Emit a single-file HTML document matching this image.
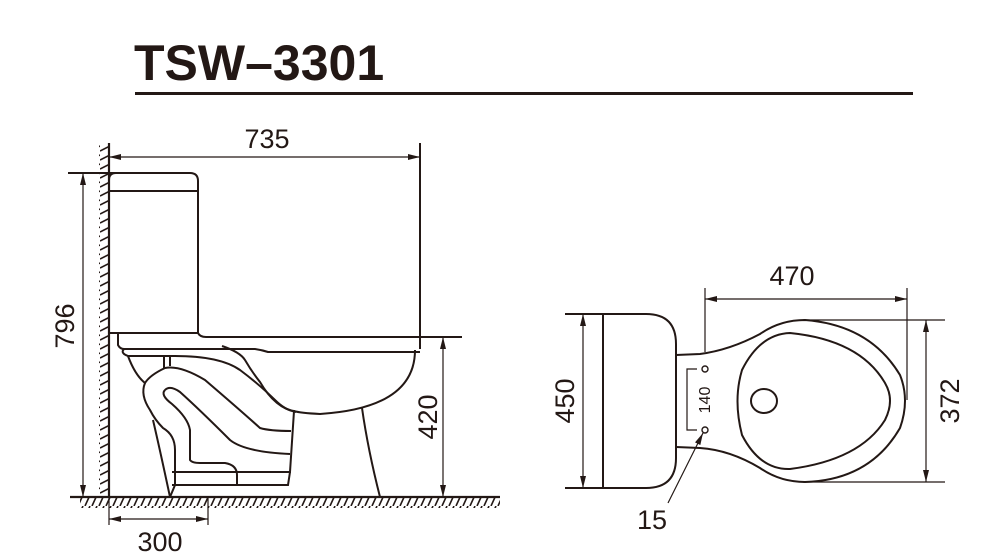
<!DOCTYPE html>
<html><head><style>
html,body{margin:0;padding:0;background:#fff}
svg{display:block}
text{font-family:"Liberation Sans",sans-serif;fill:#231815}
</style></head><body>
<svg width="992" height="556" viewBox="0 0 992 556" xmlns="http://www.w3.org/2000/svg">
<defs>
<marker id="a" viewBox="0 0 12 6" refX="12" refY="3" markerWidth="12" markerHeight="6" orient="auto-start-reverse" markerUnits="userSpaceOnUse"><path d="M0,0 L12,3 L0,6 z" fill="#231815"/></marker>
<pattern id="fh" width="7" height="11" patternUnits="userSpaceOnUse"><line x1="6" y1="0" x2="1" y2="11" stroke="#231815" stroke-width="1.6"/></pattern>
<pattern id="wh" width="10" height="9" patternUnits="userSpaceOnUse"><line x1="0" y1="7" x2="10" y2="2" stroke="#231815" stroke-width="1.6"/></pattern>
</defs>
<text x="134" y="80" font-size="50" font-weight="bold">TSW–3301</text>
<rect x="135" y="92" width="778" height="3" fill="#231815"/>

<g fill="none" stroke="#231815" stroke-width="2">
<rect x="99" y="143" width="10" height="354" fill="url(#wh)" stroke="none"/>
<rect x="80" y="497" width="420" height="11" fill="url(#fh)" stroke="none"/>
<line x1="109" y1="143" x2="109" y2="497" stroke-width="2.2"/>
<line x1="70" y1="497" x2="500" y2="497" stroke-width="2.2"/>
<line x1="109" y1="157" x2="420" y2="157" marker-start="url(#a)" marker-end="url(#a)" stroke-width="1.2"/>
<line x1="420" y1="143" x2="420" y2="349"/>
<line x1="68" y1="173" x2="190" y2="173"/>
<path d="M109,333 L109,180 Q109,173 116,173 L190,173 Q198,173 198,181 L198,333 Z"/>
<line x1="109" y1="191" x2="198" y2="191"/>
<path d="M198,333 Q200,337 206,337 L462,337"/>
<path d="M118,333 L118,345 Q120,349 124,349 L255,349 Q262,350 268,352 L420,352"/>
<path d="M415,350 Q415,408 320,414 Q300,413 294,411"/>
<path d="M124,349 Q120,353 128,356 L175,356 Q220,356 240,370 Q260,385 275,400 Q285,410 294,411 L290,472 L172,472"/>
<path d="M222,346 Q240,352 245,360 Q252,372 260,382 Q275,408 296,412"/>
<path d="M362,408 Q368,450 380,497"/>
<path d="M128,356 Q135,375 145,383 Q150,375 165,368 Q180,365 205,380 Q240,410 260,428 Q270,431 291,431"/>
<path d="M165,390 Q170,385 180,392 Q200,410 230,440 Q245,452 290,454"/>
<path d="M165,390 Q160,395 172,404 Q188,418 190,430 L190,460 Q192,463 200,463 L225,463 Q237,465 237,475 L237,485 L172,485"/>
<path d="M145,383 Q140,395 150,410 Q155,420 163,428 Q175,435 175,450 L175,485 Q173,490 170,497"/>
<path d="M153,420 Q160,450 170,497"/>
<path d="M164,357 L164,368 M170,357 L170,366"/>
<path d="M290,472 L288,485 L237,485"/>
<line x1="83" y1="173" x2="83" y2="497" marker-start="url(#a)" marker-end="url(#a)" stroke-width="1.2"/>
<line x1="443" y1="337" x2="443" y2="497" marker-start="url(#a)" marker-end="url(#a)" stroke-width="1.2"/>
<line x1="109" y1="497" x2="109" y2="525" stroke-width="1.2"/>
<line x1="208" y1="497" x2="208" y2="525" stroke-width="1.2"/>
<line x1="109" y1="519" x2="208" y2="519" marker-start="url(#a)" marker-end="url(#a)" stroke-width="1.2"/>

<path d="M565,314 L646,314 Q676,314 676,344 L676,458 Q676,488 646,488 L565,488"/>
<line x1="603" y1="314" x2="603" y2="488"/>
<line x1="583" y1="314" x2="583" y2="488" marker-start="url(#a)" marker-end="url(#a)" stroke-width="1.2"/>
<path d="M676,355 L700,354 Q730,350 760,334 Q780,320 805,320 Q870,325 900,375 Q910,400 900,428 Q870,480 805,482 Q780,482 760,468 Q730,450 700,448 L676,447"/>
<path d="M790,333 Q760,334 742,370 Q733,400 742,435 Q760,470 790,469 Q860,460 885,420 Q895,400 885,383 Q860,340 790,333 Z"/>
<ellipse cx="764" cy="401" rx="13" ry="12"/>
<line x1="705" y1="288" x2="705" y2="352" stroke-width="1.2"/>
<line x1="907" y1="288" x2="907" y2="400" stroke-width="1.2"/>
<line x1="705" y1="299" x2="907" y2="299" marker-start="url(#a)" marker-end="url(#a)" stroke-width="1.2"/>
<line x1="803" y1="320" x2="945" y2="320" stroke-width="1.2"/>
<line x1="803" y1="482" x2="945" y2="482" stroke-width="1.2"/>
<line x1="926" y1="320" x2="926" y2="482" marker-start="url(#a)" marker-end="url(#a)" stroke-width="1.2"/>
<circle cx="705" cy="369" r="3" stroke-width="1.4"/>
<circle cx="705" cy="430" r="3" stroke-width="1.4"/>
<path d="M697,369 L687,369 L687,430 L697,430" stroke-width="1.2"/>
<line x1="703" y1="433" x2="668" y2="503" marker-start="url(#a)" stroke-width="1.2"/>
</g>
<text x="267" y="148" font-size="27" text-anchor="middle">735</text>
<text transform="translate(74,326) rotate(-90)" font-size="27" text-anchor="middle">796</text>
<text transform="translate(437,417) rotate(-90)" font-size="27" text-anchor="middle">420</text>
<text x="160" y="551" font-size="27" text-anchor="middle">300</text>
<text x="792" y="285" font-size="27" text-anchor="middle">470</text>
<text transform="translate(574,401) rotate(-90)" font-size="27" text-anchor="middle">450</text>
<text transform="translate(959,401) rotate(-90)" font-size="27" text-anchor="middle">372</text>
<text transform="translate(710,400) rotate(-90)" font-size="16" text-anchor="middle">140</text>
<text x="652" y="529" font-size="27" text-anchor="middle">15</text>
</svg>
</body></html>
